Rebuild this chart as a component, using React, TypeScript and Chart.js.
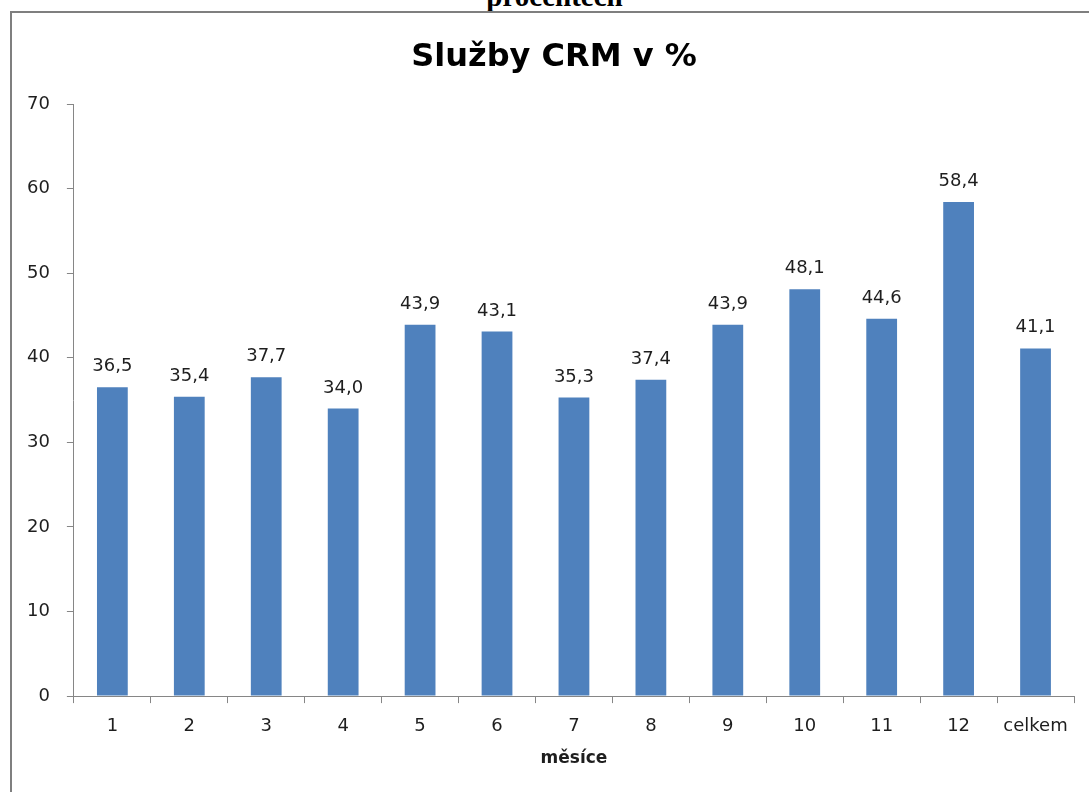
import React, { useEffect, useRef } from "react";
import { Chart, registerables } from "chart.js";

Chart.register(...registerables);

const categories = ["1", "2", "3", "4", "5", "6", "7", "8", "9", "10", "11", "12", "celkem"];
const values = [36.5, 35.4, 37.7, 34.0, 43.9, 43.1, 35.3, 37.4, 43.9, 48.1, 44.6, 58.4, 41.1];
const chartTitle = "Služby CRM v %";
const xAxisTitle = "měsíce";
const pageHeading = "procentech";
const yMax = 70;
const yStep = 10;

const BAR_COLOR = "#4F81BD";
const AXIS_COLOR = "#868686";
const TEXT_COLOR = "#1e1e1e";
const FONT = "'DejaVu Sans', sans-serif";

const valueLabels = {
  id: "valueLabels",
  afterDatasetsDraw(chart: any) {
    const ctx = chart.ctx;
    const meta = chart.getDatasetMeta(0);
    ctx.save();
    ctx.font = `18px ${FONT}`;
    ctx.fillStyle = TEXT_COLOR;
    ctx.textAlign = "center";
    ctx.textBaseline = "alphabetic";
    meta.data.forEach((bar: any, i: number) => {
      const v = values[i];
      ctx.fillText(v.toFixed(1).replace(".", ","), bar.x, bar.y - 16);
    });
    ctx.restore();
  },
};

export default function App() {
  const ref = useRef<HTMLCanvasElement | null>(null);

  useEffect(() => {
    if (!ref.current) return;
    const chart = new Chart(ref.current, {
      type: "bar",
      data: {
        labels: categories,
        datasets: [
          {
            data: values,
            backgroundColor: BAR_COLOR,
            borderWidth: 0,
            categoryPercentage: 1,
            barPercentage: 0.4,
          },
        ],
      },
      options: {
        responsive: false,
        animation: false,
        maintainAspectRatio: false,
        layout: { padding: { left: 10, right: 15, top: 104, bottom: 23 } },
        plugins: {
          legend: { display: false },
          tooltip: { enabled: false },
          title: { display: false },
        },
        scales: {
          x: {
            grid: {
              drawOnChartArea: false,
              drawTicks: true,
              tickLength: 7,
              color: AXIS_COLOR,
              offset: true,
            },
            border: { display: true, color: AXIS_COLOR, width: 1 },
            ticks: {
              color: TEXT_COLOR,
              font: { family: FONT, size: 18, lineHeight: 0.75 },
              padding: 16,
              maxRotation: 0,
            },
            title: {
              display: true,
              text: xAxisTitle,
              color: TEXT_COLOR,
              font: { family: FONT, size: 17, weight: "bold" },
              padding: { top: 0, bottom: 0 },
            },
          },
          y: {
            min: 0,
            max: yMax,
            grid: {
              drawOnChartArea: false,
              drawTicks: true,
              tickLength: 7,
              color: AXIS_COLOR,
            },
            border: { display: true, color: AXIS_COLOR, width: 1 },
            ticks: {
              stepSize: yStep,
              color: TEXT_COLOR,
              font: { family: FONT, size: 18 },
              padding: 17,
            },
          },
        },
      },
      plugins: [valueLabels],
    });
    return () => chart.destroy();
  }, []);

  return (
    <div style={{ position: "fixed", left: 0, top: 0, width: 1089, height: 792, background: "#fff", overflow: "hidden" }}>
      <div
        style={{
          position: "absolute",
          left: 0,
          width: 1089,
          top: -18,
          textAlign: "center",
          fontFamily: "'Liberation Serif', serif",
          fontWeight: "bold",
          fontSize: 29,
          lineHeight: "29px",
          paddingLeft: 20,
          boxSizing: "border-box",
          color: "#000",
        }}
      >
        {pageHeading}
      </div>
      <canvas ref={ref} width={1089} height={792} style={{ position: "absolute", left: 0, top: 0 }} />
      <div
        style={{
          position: "absolute",
          left: 0,
          width: 1108,
          top: 39,
          textAlign: "center",
          fontFamily: FONT,
          fontWeight: "bold",
          fontSize: 32,
          lineHeight: "32px",
          color: "#000",
          whiteSpace: "nowrap",
        }}
      >
        {chartTitle}
      </div>
      <div
        style={{
          position: "absolute",
          left: 10,
          top: 11,
          width: 1200,
          height: 900,
          borderLeft: `2px solid #7f7f7f`,
          borderTop: `2px solid #7f7f7f`,
          pointerEvents: "none",
        }}
      />
    </div>
  );
}
